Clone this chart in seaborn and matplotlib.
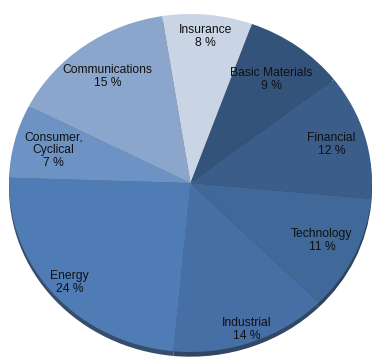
import matplotlib
matplotlib.use("Agg")
import numpy as np
import seaborn as sns
import matplotlib.pyplot as plt

# Data
sectors = ["Insurance", "Basic Materials", "Financial", "Technology",
           "Industrial", "Energy", "Consumer,\nCyclical", "Communications"]
shares = [8, 9, 12, 11, 14, 24, 7, 15]

# Style
colors = ["#c9d4e4", "#34537a", "#3a5d89", "#406898",
          "#466fa6", "#4f7cb4", "#6d92c4", "#8ba6cc"]
label_r = [0.87, 0.76, 0.81, 0.80, 0.92, 0.89, 0.78, 0.78]

sns.set_theme(style="white")
plt.rcParams['font.family'] = ['Liberation Sans', 'DejaVu Sans']

fig = plt.figure(figsize=(3.72, 3.61), dpi=100)
W, H = 372, 361
left, right, top, bottom = 9, 372, 14, 352
ax = fig.add_axes([left / W, 1 - bottom / H, (right - left) / W, (bottom - top) / H])

wedges, _ = ax.pie(shares, colors=colors, startangle=99, counterclock=False,
                   wedgeprops=dict(linewidth=0),
                   shadow=dict(ox=0.0, oy=-0.02, shade=0.45, alpha=0.95))

for w, name, val, r in zip(wedges, sectors, shares, label_r):
    mid = np.deg2rad((w.theta1 + w.theta2) / 2)
    ax.text(r * np.cos(mid), r * np.sin(mid), f"{name}\n{val} %",
            ha="center", va="center", fontsize=8.7, color="#111111",
            linespacing=1.1)

ax.set_aspect("auto")
ax.set_xlim(-1, 1)
ax.set_ylim(-1, 1)
ax.axis("off")
for p in ax.patches:
    p.set_clip_on(False)

fig.savefig("out.png", dpi=100, facecolor="white")
